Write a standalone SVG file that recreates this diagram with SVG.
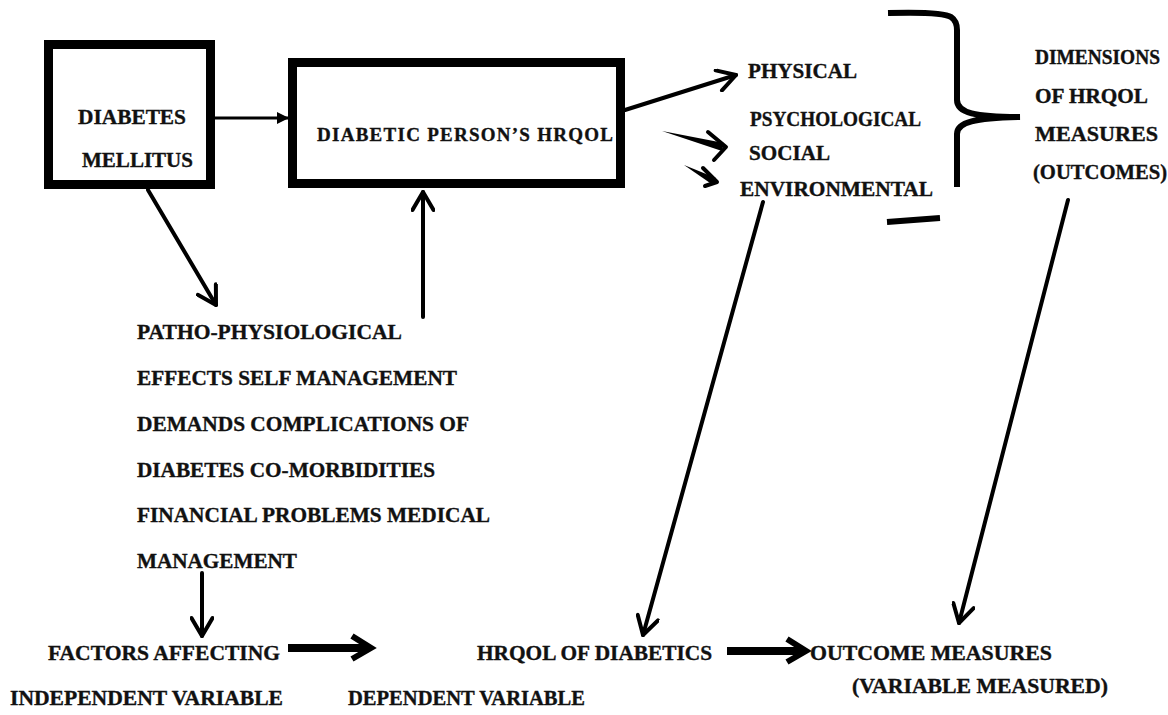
<svg xmlns="http://www.w3.org/2000/svg" width="1168" height="715" viewBox="0 0 1168 715">
<style>
.t{font-family:"Liberation Serif","Times New Roman",serif;font-weight:bold;font-size:20px;fill:#111;stroke:#111;stroke-width:0.35}
.l{font-size:21px}
.box{fill:#fff;stroke:#000;stroke-width:9}
.ln{fill:none;stroke:#000;stroke-width:4;stroke-linecap:round}
.thick{fill:none;stroke:#000;stroke-width:8}
.head{fill:none;stroke:#000;stroke-width:6;stroke-linejoin:miter}
</style>
<defs>
<marker id="chev" viewBox="0 0 24 24" refX="21" refY="12" markerWidth="24" markerHeight="24" markerUnits="userSpaceOnUse" orient="auto">
<path d="M3,1.5 L21,12 L3,22.5" fill="none" stroke="#000" stroke-width="4" stroke-linejoin="round" stroke-linecap="round"/>
</marker>
<marker id="tri" viewBox="0 0 12 12" refX="11" refY="6" markerWidth="12" markerHeight="12" markerUnits="userSpaceOnUse" orient="auto">
<path d="M0,0 L12,6 L0,12 Z" fill="#000"/>
</marker>
</defs>
<rect width="1168" height="715" fill="#fff"/>

<g id="connectors">
<line x1="215" y1="118" x2="288" y2="118" stroke="#000" stroke-width="3" marker-end="url(#tri)"/>
<line class="ln" x1="148" y1="190" x2="216" y2="305" marker-end="url(#chev)"/>
<line class="ln" x1="423" y1="317" x2="423" y2="192" marker-end="url(#chev)"/>
<line class="ln" x1="625" y1="110" x2="736" y2="75" stroke-width="5" marker-end="url(#chev)"/>
<path d="M662,131 L724,143 L722,151 Z" fill="#000"/>
<path class="ln" d="M708,132 L726,147 L714,160" stroke-width="5.5" stroke-linejoin="round"/>
<path d="M684,165 L716,178 L713,185 Z" fill="#000"/>
<path class="ln" d="M703,168 L717,182 L705,186" stroke-width="5.5" stroke-linejoin="round"/>
<line class="ln" x1="763" y1="202" x2="643" y2="635" stroke-width="3.5" marker-end="url(#chev)"/>
<line class="ln" x1="1068" y1="200" x2="959" y2="623" stroke-width="3.5" marker-end="url(#chev)"/>
<line class="ln" x1="202" y1="573" x2="202" y2="636" stroke-width="3.5" marker-end="url(#chev)"/>
<line class="thick" x1="288" y1="648" x2="366" y2="648"/>
<path class="head" d="M352,636 L371,648 L352,659"/>
<line class="thick" x1="727" y1="651" x2="801" y2="651"/>
<path class="head" d="M787,639 L806,651 L787,662"/>
</g>

<g id="brace">
<path d="M888,13 C925,12 945,13 951,17 Q957,21 957,30 L957,100 C957,113 975,117 1020,117 C975,118 957,122 957,134 L957,187" fill="none" stroke="#000" stroke-width="6"/>
<path d="M887,222 L940,218" stroke="#000" stroke-width="6"/>
</g>

<g id="diabetes-mellitus">
<rect class="box" x="48.5" y="44.5" width="162" height="140"/>
<text class="t l" x="78" y="124" textLength="108" lengthAdjust="spacingAndGlyphs">DIABETES</text>
<text class="t l" x="82" y="167" textLength="111" lengthAdjust="spacingAndGlyphs">MELLITUS</text>
</g>

<g id="hrqol-box">
<rect class="box" x="292.5" y="62.5" width="328" height="121"/>
<text class="t" x="317" y="141" textLength="296" lengthAdjust="spacing" style="font-size:19px">DIABETIC PERSON’S HRQOL</text>
</g>

<g id="dimensions-list">
<text class="t" x="748" y="78" textLength="109" lengthAdjust="spacingAndGlyphs">PHYSICAL</text>
<text class="t" x="750" y="126" textLength="171" lengthAdjust="spacingAndGlyphs">PSYCHOLOGICAL</text>
<text class="t" x="749" y="160" textLength="81" lengthAdjust="spacingAndGlyphs">SOCIAL</text>
<text class="t" x="740" y="196" textLength="193" lengthAdjust="spacingAndGlyphs">ENVIRONMENTAL</text>
</g>

<g id="dimensions-label">
<text class="t" x="1035" y="64" textLength="125" lengthAdjust="spacingAndGlyphs">DIMENSIONS</text>
<text class="t" x="1035" y="103" textLength="113" lengthAdjust="spacingAndGlyphs">OF HRQOL</text>
<text class="t" x="1035" y="141" textLength="123" lengthAdjust="spacingAndGlyphs">MEASURES</text>
<text class="t" x="1033" y="179" textLength="134" lengthAdjust="spacingAndGlyphs">(OUTCOMES)</text>
</g>

<g id="factors-list">
<text class="t l" x="137" y="339" textLength="265" lengthAdjust="spacingAndGlyphs">PATHO-PHYSIOLOGICAL</text>
<text class="t l" x="137" y="385" textLength="320" lengthAdjust="spacingAndGlyphs">EFFECTS SELF MANAGEMENT</text>
<text class="t l" x="137" y="431" textLength="332" lengthAdjust="spacingAndGlyphs">DEMANDS COMPLICATIONS OF</text>
<text class="t l" x="137" y="477" textLength="298" lengthAdjust="spacingAndGlyphs">DIABETES CO-MORBIDITIES</text>
<text class="t l" x="137" y="522" textLength="353" lengthAdjust="spacingAndGlyphs">FINANCIAL PROBLEMS MEDICAL</text>
<text class="t l" x="137" y="568" textLength="160" lengthAdjust="spacingAndGlyphs">MANAGEMENT</text>
</g>

<g id="factors-affecting">
<text class="t" x="48" y="660" textLength="232" lengthAdjust="spacingAndGlyphs">FACTORS AFFECTING</text>
<text class="t" x="10" y="705" textLength="273" lengthAdjust="spacingAndGlyphs">INDEPENDENT VARIABLE</text>
</g>

<g id="hrqol-diabetics">
<text class="t" x="477" y="660" textLength="235" lengthAdjust="spacingAndGlyphs">HRQOL OF DIABETICS</text>
<text class="t" x="348" y="705" textLength="237" lengthAdjust="spacingAndGlyphs">DEPENDENT VARIABLE</text>
</g>

<g id="outcome-measures">
<text class="t" x="810" y="660" textLength="242" lengthAdjust="spacingAndGlyphs">OUTCOME MEASURES</text>
<text class="t" x="852" y="693" textLength="256" lengthAdjust="spacingAndGlyphs">(VARIABLE MEASURED)</text>
</g>
</svg>
